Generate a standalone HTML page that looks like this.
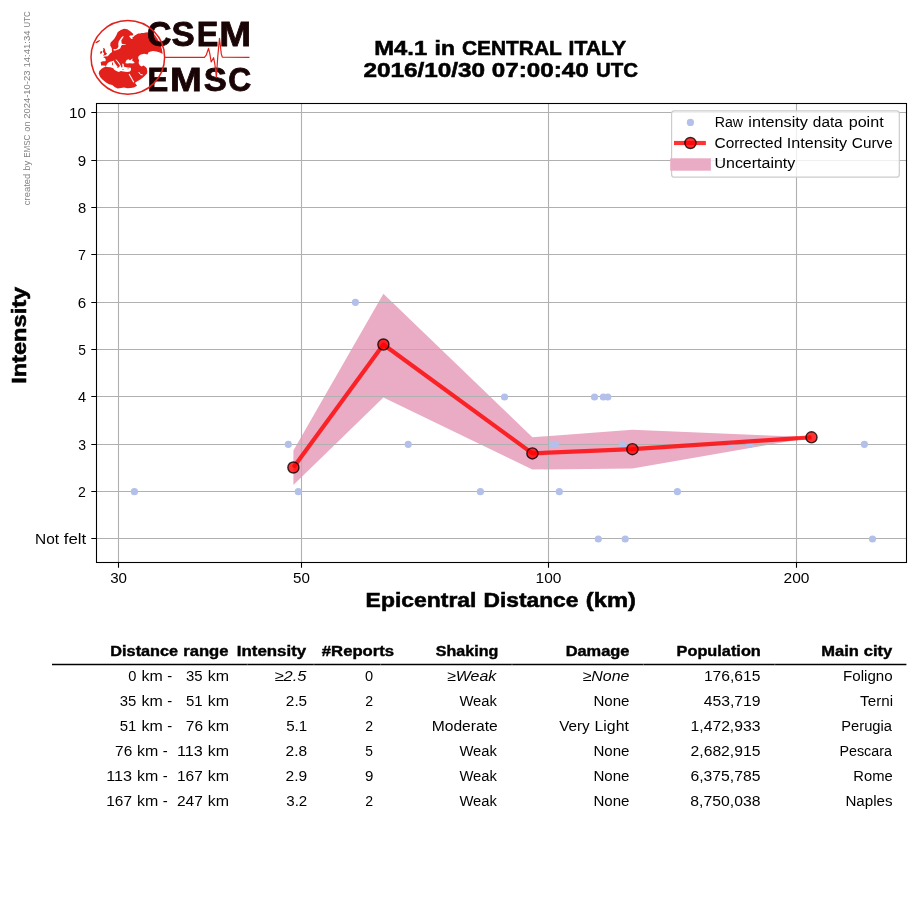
<!DOCTYPE html>
<html><head><meta charset="utf-8"><title>M4.1 in CENTRAL ITALY</title>
<style>
html,body{margin:0;padding:0;background:#fff}
svg{display:block;font-family:"Liberation Sans",sans-serif}
</style></head><body>
<svg width="915" height="905" viewBox="0 0 915 905">
<rect width="915" height="905" fill="#fff"/>
<g opacity="0.999">
<g id="logo">
<path d="M124.1 28.8L127.3 29.3L130.6 31.4L133.4 34.1L132.5 35.6L130.0 35.4L129.2 36.5L130.3 37.8L131.3 39.1L132.7 38.9L132.2 37.4L133.4 37.0L134.4 35.7L136.5 34.5L138.2 33.6L139.8 33.6L141.8 33.0L143.7 33.0L145.7 32.4L148.0 32.2L148.6 33.1L153.1 32.3L154.0 34.1L155.2 35.5L156.3 37.0L157.3 38.5L158.2 40.1L159.1 41.7L159.9 43.3L160.6 45.0L161.1 46.7L161.7 48.5L162.1 50.3L162.4 52.1L162.6 53.9L159.8 52.5L156.5 51.5L153.1 51.0L150.7 51.4L148.6 52.3L147.5 54.4L144.2 53.8L140.9 54.4L138.7 56.1L138.1 58.1L139.1 60.6L138.6 63.1L139.9 65.6L141.7 66.6L143.4 65.6L145.0 66.4L146.7 68.1L147.3 71.4L147.0 73.5L144.9 75.7L142.4 78.0L139.1 80.3L135.7 82.3L134.6 83.2L135.3 83.3L137.0 85.7L133.9 87.5L130.6 87.9L127.3 88.2L124.1 87.5L120.8 87.9L117.5 88.6L114.6 87.0L112.3 84.9L109.0 84.2L105.7 82.3L102.4 79.6L100.1 77.0L98.7 73.6L99.3 71.0L101.6 68.7L103.6 67.4L105.6 66.8L105.4 65.7L103.4 65.6L101.1 65.5L100.7 61.9L103.1 61.3L105.4 61.3L105.8 60.0L105.2 58.3L103.2 57.3L104.4 56.4L107.7 56.2L109.1 54.7L110.0 53.4L112.1 52.1L111.9 50.7L111.6 47.2L113.2 46.7L113.8 50.7L116.2 50.3L118.8 49.3L120.3 48.3L120.8 46.9L121.1 45.9L122.2 45.0L125.7 44.5L125.7 44.0L122.4 44.0L121.6 43.2L121.3 40.6L122.6 38.3L123.9 36.6L122.2 36.6L120.3 38.9L118.8 41.3L118.2 44.1L118.5 46.3L118.0 47.6L116.9 48.8L115.2 49.3L114.1 49.0L111.6 47.9L110.2 45.5L110.5 42.7L114.1 39.1L116.1 35.7L117.8 32.1L120.8 30.1ZM102.8 47.8L104.9 48.7L105.4 52.1L107.1 53.7L105.8 55.1L103.1 55.8L104.1 53.4L102.7 51.6L103.5 49.5ZM100.1 51.8L101.8 51.0L102.2 52.8L100.5 54.2ZM95.3 42.4L97.2 41.0L99.8 40.0L99.9 41.0L97.8 42.4L96.0 43.2Z" fill="#e2211c"/>
<path d="M105.6 66.4L106.4 65.2L107.8 63.0L109.8 61.7L112.1 61.3L113.7 60.6L114.6 62.8L115.9 64.6L117.0 66.1L118.0 67.3L119.3 66.9L119.9 65.6L118.8 64.1L117.2 61.8L115.9 60.2L115.4 59.7L116.2 59.6L117.5 60.8L119.3 63.1L120.7 65.4L121.3 67.2L122.1 67.8L122.5 66.1L122.2 64.1L122.8 63.4L123.5 64.1L124.1 66.8L127.3 67.4L130.8 67.8L131.1 69.7L130.0 71.4L127.3 72.1L123.4 71.4L120.8 71.1L118.8 72.1L116.9 71.2L114.2 69.8L113.3 68.2L110.3 67.3L107.0 67.0ZM125.4 62.6L126.6 60.0L128.7 59.2L130.0 60.4L131.3 59.2L132.7 58.4L132.1 60.5L133.9 61.8L134.7 63.1L132.6 63.6L130.0 63.2L127.3 63.6L125.7 63.3Z" fill="#fff"/>
<path d="M116.7 67.2L118.6 67.2L118.2 68.0L117.1 67.8ZM112.0 62.6L112.9 62.5L113.0 65.1L112.1 65.2ZM122.1 69.1L123.9 69.0L123.9 69.5L122.2 69.6ZM127.3 68.8L128.8 68.4L128.8 69.0L127.5 69.2Z" fill="#e2211c"/>
<path d="M129.1 73.9L133.8 82.3" stroke="#fff" stroke-width="1.1" fill="none"/>
<path d="M138.7 72.1L140.6 74.6L142.7 74.9" stroke="#fff" stroke-width="1" fill="none"/>
<text transform="matrix(0.9939 0 0 1.0261 146.91 46.35)" font-size="34.0" font-weight="bold" fill="#1a0506" stroke="#1a0506" stroke-width="0.8" stroke-linejoin="miter">C</text>
<text transform="matrix(1.0245 0 0 1.0261 171.52 46.35)" font-size="34.0" font-weight="bold" fill="#1a0506" stroke="#1a0506" stroke-width="0.8" stroke-linejoin="miter">S</text>
<text transform="matrix(0.9525 0 0 1.0046 196.66 46.10)" font-size="34.0" font-weight="bold" fill="#1a0506" stroke="#1a0506" stroke-width="0.8" stroke-linejoin="miter">E</text>
<text transform="matrix(1.1244 0 0 1.0046 219.18 46.10)" font-size="34.0" font-weight="bold" fill="#1a0506" stroke="#1a0506" stroke-width="0.8" stroke-linejoin="miter">M</text>
<text transform="matrix(0.9158 0 0 0.9832 147.54 91.30)" font-size="34.0" font-weight="bold" fill="#1a0506" stroke="#1a0506" stroke-width="0.8" stroke-linejoin="miter">E</text>
<text transform="matrix(1.1244 0 0 0.9832 169.98 91.30)" font-size="34.0" font-weight="bold" fill="#1a0506" stroke="#1a0506" stroke-width="0.8" stroke-linejoin="miter">M</text>
<text transform="matrix(1.0196 0 0 1.0012 203.73 91.36)" font-size="34.0" font-weight="bold" fill="#1a0506" stroke="#1a0506" stroke-width="0.8" stroke-linejoin="miter">S</text>
<text transform="matrix(0.9354 0 0 1.0012 228.30 91.36)" font-size="34.0" font-weight="bold" fill="#1a0506" stroke="#1a0506" stroke-width="0.8" stroke-linejoin="miter">C</text>
<circle cx="127.8" cy="57.35" r="36.8" fill="none" stroke="#e2211c" stroke-width="1.5"/>
<path d="M164.8 57.3L204.4 57.3L206.2 55.2L208.5 48.4L209.8 53.7L211.2 62.0L213.6 57.7L214.8 63.8L216.4 77.1L217.7 57.3L219.5 38.3L221.3 53.9L222.3 57.2L249.5 57.3" fill="none" stroke="#e2211c" stroke-width="1.2" stroke-linejoin="round"/>
</g>
<polygon points="293.4,450.5 383.4,293.8 532.4,437.3 632.4,429.8 811.5,437.3 811.5,437.3 632.4,468.5 532.4,469.5 383.4,397.4 293.4,484.9" fill="#eaacc4"/>
<path d="M96.5 538.5H906.5M96.5 491.5H906.5M96.5 444.5H906.5M96.5 396.5H906.5M96.5 349.5H906.5M96.5 302.5H906.5M96.5 254.5H906.5M96.5 207.5H906.5M96.5 160.5H906.5M96.5 112.5H906.5M118.5 103.5V562.5M301.5 103.5V562.5M548.5 103.5V562.5M796.5 103.5V562.5" stroke="#b0b0b0" stroke-width="1.1" fill="none"/>
<g fill="#b3c0e9"><circle cx="598.3" cy="539.0" r="3.6"/><circle cx="625.2" cy="539.0" r="3.6"/><circle cx="872.5" cy="539.0" r="3.6"/><circle cx="134.4" cy="491.7" r="3.6"/><circle cx="298.3" cy="491.7" r="3.6"/><circle cx="480.4" cy="491.7" r="3.6"/><circle cx="559.3" cy="491.7" r="3.6"/><circle cx="677.4" cy="491.7" r="3.6"/><circle cx="288.3" cy="444.3" r="3.6"/><circle cx="408.2" cy="444.3" r="3.6"/><circle cx="552.5" cy="444.3" r="3.6"/><circle cx="555.5" cy="444.3" r="3.6"/><circle cx="622.6" cy="444.3" r="3.6"/><circle cx="730.6" cy="444.3" r="3.6"/><circle cx="749.8" cy="444.3" r="3.6"/><circle cx="864.4" cy="444.3" r="3.6"/><circle cx="504.5" cy="397.0" r="3.6"/><circle cx="594.5" cy="397.0" r="3.6"/><circle cx="603.3" cy="397.0" r="3.6"/><circle cx="607.8" cy="397.0" r="3.6"/><circle cx="355.4" cy="302.3" r="3.6"/></g>
<g opacity="0.8"><polyline points="293.4,467.5 383.4,344.5 532.4,453.4 632.4,449.2 811.5,437.3" fill="none" stroke="#ff0000" stroke-width="4.17" stroke-linejoin="round"/></g>
<g fill="#ff0000" fill-opacity="0.8" stroke="#000" stroke-opacity="0.8" stroke-width="1.39"><circle cx="293.4" cy="467.5" r="5.55"/><circle cx="383.4" cy="344.5" r="5.55"/><circle cx="532.4" cy="453.4" r="5.55"/><circle cx="632.4" cy="449.2" r="5.55"/><circle cx="811.5" cy="437.3" r="5.55"/></g>
<rect x="96.5" y="103.5" width="810.0" height="459.0" fill="none" stroke="#000" stroke-width="1.1"/>
<path d="M91.3 538.5H96.5M91.3 491.5H96.5M91.3 444.5H96.5M91.3 396.5H96.5M91.3 349.5H96.5M91.3 302.5H96.5M91.3 254.5H96.5M91.3 207.5H96.5M91.3 160.5H96.5M91.3 112.5H96.5M118.5 562.5V567.7M301.5 562.5V567.7M548.5 562.5V567.7M796.5 562.5V567.7" stroke="#000" stroke-width="1.1" fill="none"/>
<text y="583.10" font-size="14.58"><tspan x="110.15" textLength="16.85" lengthAdjust="spacingAndGlyphs">30</tspan></text>
<text y="583.10" font-size="14.58"><tspan x="293.13" textLength="16.87" lengthAdjust="spacingAndGlyphs">50</tspan></text>
<text y="583.10" font-size="14.58"><tspan x="535.59" textLength="25.83" lengthAdjust="spacingAndGlyphs">100</tspan></text>
<text y="583.10" font-size="14.58"><tspan x="783.49" textLength="25.95" lengthAdjust="spacingAndGlyphs">200</tspan></text>
<text y="543.80" font-size="14.58"><tspan x="35.06" textLength="24.01" lengthAdjust="spacingAndGlyphs">Not</tspan> <tspan x="63.79" textLength="22.44" lengthAdjust="spacingAndGlyphs">felt</tspan></text>
<text y="496.80" font-size="14.58"><tspan x="77.93" textLength="7.84" lengthAdjust="spacingAndGlyphs">2</tspan></text>
<text y="449.80" font-size="14.58"><tspan x="78.14" textLength="7.80" lengthAdjust="spacingAndGlyphs">3</tspan></text>
<text y="401.80" font-size="14.58"><tspan x="77.97" textLength="8.13" lengthAdjust="spacingAndGlyphs">4</tspan></text>
<text y="354.80" font-size="14.58"><tspan x="78.13" textLength="7.67" lengthAdjust="spacingAndGlyphs">5</tspan></text>
<text y="307.80" font-size="14.58"><tspan x="77.83" textLength="8.40" lengthAdjust="spacingAndGlyphs">6</tspan></text>
<text y="259.80" font-size="14.58"><tspan x="78.02" textLength="7.96" lengthAdjust="spacingAndGlyphs">7</tspan></text>
<text y="212.80" font-size="14.58"><tspan x="77.92" textLength="8.22" lengthAdjust="spacingAndGlyphs">8</tspan></text>
<text y="165.80" font-size="14.58"><tspan x="77.79" textLength="8.39" lengthAdjust="spacingAndGlyphs">9</tspan></text>
<text y="117.80" font-size="14.58"><tspan x="69.14" textLength="16.97" lengthAdjust="spacingAndGlyphs">10</tspan></text>
<text y="607.30" font-size="20.42" font-weight="bold" stroke="#000" stroke-width="0.57"><tspan x="365.64" textLength="110.79" lengthAdjust="spacingAndGlyphs">Epicentral</tspan> <tspan x="483.51" textLength="94.91" lengthAdjust="spacingAndGlyphs">Distance</tspan> <tspan x="585.86" textLength="49.95" lengthAdjust="spacingAndGlyphs">(km)</tspan></text>
<text transform="translate(26.00,384.09) rotate(-90)" y="0" font-size="20.42" font-weight="bold" stroke="#000" stroke-width="0.57"><tspan x="0.23" textLength="97.15" lengthAdjust="spacingAndGlyphs">Intensity</tspan></text>
<text transform="translate(30.00,205.26) rotate(-90)" y="0" font-size="8.75" fill="#808080"><tspan x="0.06" textLength="31.53" lengthAdjust="spacingAndGlyphs">created</tspan> <tspan x="34.55" textLength="9.83" lengthAdjust="spacingAndGlyphs">by</tspan> <tspan x="47.42" textLength="23.25" lengthAdjust="spacingAndGlyphs">EMSC</tspan> <tspan x="73.55" textLength="10.19" lengthAdjust="spacingAndGlyphs">on</tspan> <tspan x="86.64" textLength="48.03" lengthAdjust="spacingAndGlyphs">2024-10-23</tspan> <tspan x="137.77" textLength="37.05" lengthAdjust="spacingAndGlyphs">14:41:34</tspan> <tspan x="177.77" textLength="16.25" lengthAdjust="spacingAndGlyphs">UTC</tspan></text>
<text y="54.90" font-size="20.42" font-weight="bold" stroke="#000" stroke-width="0.57"><tspan x="374.24" textLength="52.89" lengthAdjust="spacingAndGlyphs">M4.1</tspan> <tspan x="434.64" textLength="20.34" lengthAdjust="spacingAndGlyphs">in</tspan> <tspan x="461.98" textLength="99.46" lengthAdjust="spacingAndGlyphs">CENTRAL</tspan> <tspan x="568.52" textLength="57.60" lengthAdjust="spacingAndGlyphs">ITALY</tspan></text>
<text y="76.90" font-size="20.42" font-weight="bold" stroke="#000" stroke-width="0.57"><tspan x="363.40" textLength="121.77" lengthAdjust="spacingAndGlyphs">2016/10/30</tspan> <tspan x="491.88" textLength="96.78" lengthAdjust="spacingAndGlyphs">07:00:40</tspan> <tspan x="595.95" textLength="42.08" lengthAdjust="spacingAndGlyphs">UTC</tspan></text>
<rect x="671.6" y="110.8" width="227.7" height="66.4" rx="2.8" fill="#fff" fill-opacity="0.8" stroke="#cccccc" stroke-width="1.2"/>
<circle cx="690.4" cy="122.4" r="3.6" fill="#b3c0e9"/>
<path d="M674 143H705.9" stroke="#ff0000" stroke-opacity="0.8" stroke-width="4.17" fill="none"/>
<circle cx="690.4" cy="143" r="5.55" fill="#ff0000" fill-opacity="0.8" stroke="#000" stroke-opacity="0.8" stroke-width="1.39"/>
<rect x="670.2" y="158.3" width="40.7" height="12.4" fill="#eaacc4"/>
<text y="126.60" font-size="14.58"><tspan x="714.70" textLength="28.39" lengthAdjust="spacingAndGlyphs">Raw</tspan> <tspan x="748.37" textLength="59.61" lengthAdjust="spacingAndGlyphs">intensity</tspan> <tspan x="812.88" textLength="29.89" lengthAdjust="spacingAndGlyphs">data</tspan> <tspan x="848.69" textLength="34.96" lengthAdjust="spacingAndGlyphs">point</tspan></text>
<text y="147.50" font-size="14.58"><tspan x="714.51" textLength="67.76" lengthAdjust="spacingAndGlyphs">Corrected</tspan> <tspan x="786.85" textLength="60.20" lengthAdjust="spacingAndGlyphs">Intensity</tspan> <tspan x="851.85" textLength="40.91" lengthAdjust="spacingAndGlyphs">Curve</tspan></text>
<text y="168.30" font-size="14.58"><tspan x="714.48" textLength="80.78" lengthAdjust="spacingAndGlyphs">Uncertainty</tspan></text>
<path d="M52 664.5H906.4" stroke="#000" stroke-width="1.39" fill="none"/>
<path d="M247.3 663.6V665.4M313.9 663.6V665.4M380.6 663.6V665.4M512.0 663.6V665.4M643.4 663.6V665.4M774.8 663.6V665.4" stroke="#fff" stroke-opacity="0.45" stroke-width="0.7" fill="none"/>
<text y="656.40" font-size="14.58" font-weight="bold" stroke="#000" stroke-width="0.41"><tspan x="110.36" textLength="67.79" lengthAdjust="spacingAndGlyphs">Distance</tspan> <tspan x="183.19" textLength="45.28" lengthAdjust="spacingAndGlyphs">range</tspan></text>
<text y="656.40" font-size="14.58" font-weight="bold" stroke="#000" stroke-width="0.41"><tspan x="236.79" textLength="69.39" lengthAdjust="spacingAndGlyphs">Intensity</tspan></text>
<text y="656.40" font-size="14.58" font-weight="bold" stroke="#000" stroke-width="0.41"><tspan x="321.82" textLength="72.35" lengthAdjust="spacingAndGlyphs">#Reports</tspan></text>
<text y="656.40" font-size="14.58" font-weight="bold" stroke="#000" stroke-width="0.41"><tspan x="435.82" textLength="62.45" lengthAdjust="spacingAndGlyphs">Shaking</tspan></text>
<text y="656.40" font-size="14.58" font-weight="bold" stroke="#000" stroke-width="0.41"><tspan x="565.66" textLength="63.81" lengthAdjust="spacingAndGlyphs">Damage</tspan></text>
<text y="656.40" font-size="14.58" font-weight="bold" stroke="#000" stroke-width="0.41"><tspan x="676.57" textLength="84.24" lengthAdjust="spacingAndGlyphs">Population</tspan></text>
<text y="656.40" font-size="14.58" font-weight="bold" stroke="#000" stroke-width="0.41"><tspan x="821.27" textLength="37.59" lengthAdjust="spacingAndGlyphs">Main</tspan> <tspan x="863.72" textLength="28.57" lengthAdjust="spacingAndGlyphs">city</tspan></text>
<text y="680.90" font-size="14.58"><tspan x="128.37" textLength="8.13" lengthAdjust="spacingAndGlyphs">0</tspan> <tspan x="141.47" textLength="21.24" lengthAdjust="spacingAndGlyphs">km</tspan> <tspan x="167.29" textLength="4.97" lengthAdjust="spacingAndGlyphs">-</tspan> <tspan x="186.01" textLength="16.58" lengthAdjust="spacingAndGlyphs">35</tspan> <tspan x="207.80" textLength="21.24" lengthAdjust="spacingAndGlyphs">km</tspan></text>
<text y="680.90" font-size="14.58" font-style="italic"><tspan x="274.50" textLength="31.95" lengthAdjust="spacingAndGlyphs"><tspan font-style="normal">≥</tspan>2.5</tspan></text>
<text y="680.90" font-size="14.58"><tspan x="365.03" textLength="8.13" lengthAdjust="spacingAndGlyphs">0</tspan></text>
<text y="680.90" font-size="14.58" font-style="italic"><tspan x="447.05" textLength="49.28" lengthAdjust="spacingAndGlyphs"><tspan font-style="normal">≥</tspan>Weak</tspan></text>
<text y="680.90" font-size="14.58" font-style="italic"><tspan x="582.52" textLength="46.86" lengthAdjust="spacingAndGlyphs"><tspan font-style="normal">≥</tspan>None</tspan></text>
<text y="680.90" font-size="14.58"><tspan x="703.92" textLength="56.52" lengthAdjust="spacingAndGlyphs">176,615</tspan></text>
<text y="680.90" font-size="14.58"><tspan x="843.07" textLength="49.55" lengthAdjust="spacingAndGlyphs">Foligno</tspan></text>
<text y="705.90" font-size="14.58"><tspan x="119.68" textLength="16.58" lengthAdjust="spacingAndGlyphs">35</tspan> <tspan x="141.47" textLength="21.24" lengthAdjust="spacingAndGlyphs">km</tspan> <tspan x="167.29" textLength="4.97" lengthAdjust="spacingAndGlyphs">-</tspan> <tspan x="185.99" textLength="16.64" lengthAdjust="spacingAndGlyphs">51</tspan> <tspan x="207.80" textLength="21.24" lengthAdjust="spacingAndGlyphs">km</tspan></text>
<text y="705.90" font-size="14.58"><tspan x="285.88" textLength="21.25" lengthAdjust="spacingAndGlyphs">2.5</tspan></text>
<text y="705.90" font-size="14.58"><tspan x="365.18" textLength="7.84" lengthAdjust="spacingAndGlyphs">2</tspan></text>
<text y="705.90" font-size="14.58"><tspan x="459.43" textLength="37.55" lengthAdjust="spacingAndGlyphs">Weak</tspan></text>
<text y="705.90" font-size="14.58"><tspan x="593.43" textLength="36.04" lengthAdjust="spacingAndGlyphs">None</tspan></text>
<text y="705.90" font-size="14.58"><tspan x="703.68" textLength="56.86" lengthAdjust="spacingAndGlyphs">453,719</tspan></text>
<text y="705.90" font-size="14.58"><tspan x="860.13" textLength="32.89" lengthAdjust="spacingAndGlyphs">Terni</tspan></text>
<text y="730.90" font-size="14.58"><tspan x="119.66" textLength="16.64" lengthAdjust="spacingAndGlyphs">51</tspan> <tspan x="141.47" textLength="21.24" lengthAdjust="spacingAndGlyphs">km</tspan> <tspan x="167.29" textLength="4.97" lengthAdjust="spacingAndGlyphs">-</tspan> <tspan x="185.87" textLength="17.11" lengthAdjust="spacingAndGlyphs">76</tspan> <tspan x="207.80" textLength="21.24" lengthAdjust="spacingAndGlyphs">km</tspan></text>
<text y="730.90" font-size="14.58"><tspan x="286.16" textLength="21.07" lengthAdjust="spacingAndGlyphs">5.1</tspan></text>
<text y="730.90" font-size="14.58"><tspan x="365.18" textLength="7.84" lengthAdjust="spacingAndGlyphs">2</tspan></text>
<text y="730.90" font-size="14.58"><tspan x="431.77" textLength="65.93" lengthAdjust="spacingAndGlyphs">Moderate</tspan></text>
<text y="730.90" font-size="14.58"><tspan x="559.21" textLength="30.47" lengthAdjust="spacingAndGlyphs">Very</tspan> <tspan x="594.53" textLength="34.37" lengthAdjust="spacingAndGlyphs">Light</tspan></text>
<text y="730.90" font-size="14.58"><tspan x="690.56" textLength="69.91" lengthAdjust="spacingAndGlyphs">1,472,933</tspan></text>
<text y="730.90" font-size="14.58"><tspan x="841.30" textLength="50.68" lengthAdjust="spacingAndGlyphs">Perugia</tspan></text>
<text y="755.90" font-size="14.58"><tspan x="115.12" textLength="17.11" lengthAdjust="spacingAndGlyphs">76</tspan> <tspan x="137.05" textLength="21.24" lengthAdjust="spacingAndGlyphs">km</tspan> <tspan x="162.86" textLength="4.97" lengthAdjust="spacingAndGlyphs">-</tspan> <tspan x="176.98" textLength="25.80" lengthAdjust="spacingAndGlyphs">113</tspan> <tspan x="207.80" textLength="21.24" lengthAdjust="spacingAndGlyphs">km</tspan></text>
<text y="755.90" font-size="14.58"><tspan x="285.60" textLength="21.56" lengthAdjust="spacingAndGlyphs">2.8</tspan></text>
<text y="755.90" font-size="14.58"><tspan x="365.27" textLength="7.67" lengthAdjust="spacingAndGlyphs">5</tspan></text>
<text y="755.90" font-size="14.58"><tspan x="459.43" textLength="37.55" lengthAdjust="spacingAndGlyphs">Weak</tspan></text>
<text y="755.90" font-size="14.58"><tspan x="593.43" textLength="36.04" lengthAdjust="spacingAndGlyphs">None</tspan></text>
<text y="755.90" font-size="14.58"><tspan x="690.56" textLength="69.88" lengthAdjust="spacingAndGlyphs">2,682,915</tspan></text>
<text y="755.90" font-size="14.58"><tspan x="839.43" textLength="52.57" lengthAdjust="spacingAndGlyphs">Pescara</tspan></text>
<text y="780.90" font-size="14.58"><tspan x="106.22" textLength="25.80" lengthAdjust="spacingAndGlyphs">113</tspan> <tspan x="137.05" textLength="21.24" lengthAdjust="spacingAndGlyphs">km</tspan> <tspan x="162.86" textLength="4.97" lengthAdjust="spacingAndGlyphs">-</tspan> <tspan x="177.04" textLength="25.75" lengthAdjust="spacingAndGlyphs">167</tspan> <tspan x="207.80" textLength="21.24" lengthAdjust="spacingAndGlyphs">km</tspan></text>
<text y="780.90" font-size="14.58"><tspan x="285.63" textLength="21.60" lengthAdjust="spacingAndGlyphs">2.9</tspan></text>
<text y="780.90" font-size="14.58"><tspan x="364.91" textLength="8.39" lengthAdjust="spacingAndGlyphs">9</tspan></text>
<text y="780.90" font-size="14.58"><tspan x="459.43" textLength="37.55" lengthAdjust="spacingAndGlyphs">Weak</tspan></text>
<text y="780.90" font-size="14.58"><tspan x="593.43" textLength="36.04" lengthAdjust="spacingAndGlyphs">None</tspan></text>
<text y="780.90" font-size="14.58"><tspan x="690.51" textLength="69.93" lengthAdjust="spacingAndGlyphs">6,375,785</tspan></text>
<text y="780.90" font-size="14.58"><tspan x="853.29" textLength="39.36" lengthAdjust="spacingAndGlyphs">Rome</tspan></text>
<text y="805.90" font-size="14.58"><tspan x="106.28" textLength="25.75" lengthAdjust="spacingAndGlyphs">167</tspan> <tspan x="137.05" textLength="21.24" lengthAdjust="spacingAndGlyphs">km</tspan> <tspan x="162.86" textLength="4.97" lengthAdjust="spacingAndGlyphs">-</tspan> <tspan x="176.93" textLength="25.86" lengthAdjust="spacingAndGlyphs">247</tspan> <tspan x="207.80" textLength="21.24" lengthAdjust="spacingAndGlyphs">km</tspan></text>
<text y="805.90" font-size="14.58"><tspan x="286.29" textLength="20.97" lengthAdjust="spacingAndGlyphs">3.2</tspan></text>
<text y="805.90" font-size="14.58"><tspan x="365.18" textLength="7.84" lengthAdjust="spacingAndGlyphs">2</tspan></text>
<text y="805.90" font-size="14.58"><tspan x="459.43" textLength="37.55" lengthAdjust="spacingAndGlyphs">Weak</tspan></text>
<text y="805.90" font-size="14.58"><tspan x="593.43" textLength="36.04" lengthAdjust="spacingAndGlyphs">None</tspan></text>
<text y="805.90" font-size="14.58"><tspan x="690.33" textLength="70.15" lengthAdjust="spacingAndGlyphs">8,750,038</tspan></text>
<text y="805.90" font-size="14.58"><tspan x="845.44" textLength="47.10" lengthAdjust="spacingAndGlyphs">Naples</tspan></text>
</g>
</svg>
</body></html>
